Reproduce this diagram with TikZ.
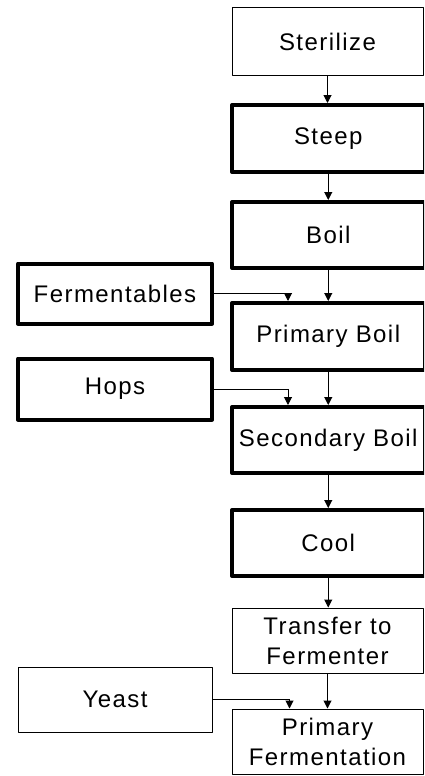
\documentclass[tikz,border=0pt]{standalone}
\usepackage{fontspec}
\setmainfont{Liberation Sans}[LetterSpace=6]
\usetikzlibrary{arrows.meta}
\begin{document}
\begin{tikzpicture}[x=1pt,y=-1pt,
  box/.style={draw=black, rectangle, inner sep=0pt, align=center,
    font=\fontsize{24}{30}\selectfont, line join=round},
  thinbox/.style={box, line width=1pt},
  thickbox/.style={box, line width=4pt},
  mainthin/.style={thinbox, minimum width=191pt},
  mainthick/.style={thickbox, minimum width=192.5pt},
  sidebox/.style={minimum width=194pt},
  flow/.style={draw=black, line width=1pt, -{Triangle[width=8pt,length=8pt]}}
]
\useasboundingbox (0,0) rectangle (424,776);
\clip (0,0) rectangle (424,776);

% main process column
\node[mainthin, minimum height=67pt]  (steril) at (327.5,41.5)   {Sterilize};
\node[mainthick, minimum height=67pt] (steep)  at (328.25,138.5) {Steep};
\node[mainthick, minimum height=66pt] (boil)   at (328.25,235)   {Boil};
\node[mainthick, minimum height=67pt] (pboil)  at (328.25,336.5) {Primary Boil};
\node[mainthick, minimum height=66pt] (sboil)  at (328.25,440)   {Secondary Boil};
\node[mainthick, minimum height=66pt] (cool)   at (328.25,543)   {Cool};
\node[mainthin, minimum height=65pt]  (xfer)   at (327.5,640.5)  {Transfer to\\Fermenter};
\node[mainthin, minimum height=65pt]  (pferm)  at (327.5,741.5)  {Primary\\Fermentation};

% ingredient inputs
\node[thickbox, sidebox, minimum height=60pt] (ferm)  at (115,293.5) {Fermentables};
\node[thickbox, sidebox, minimum height=61pt] (hops)  at (115,389)   {Hops};
\node[thinbox, sidebox, minimum height=65pt]  (yeast) at (115,699.5) {Yeast};

% flow connectors
\draw[flow] (steril) -- (steril |- steep.north);
\draw[flow] (steep) -- (boil);
\draw[flow] (boil) -- (pboil);
\draw[flow] (pboil) -- (sboil);
\draw[flow] (sboil) -- (cool);
\draw[flow] (cool) -- (cool |- xfer.north);
\draw[flow] (xfer) -- (pferm);

\draw[flow] (ferm.east)  -| ([xshift=58pt]pboil.north west);
\draw[flow] (hops.east)  -| ([xshift=58pt]sboil.north west);
\draw[flow] (yeast.east) -| ([xshift=58pt]pferm.north west);
\end{tikzpicture}
\end{document}
